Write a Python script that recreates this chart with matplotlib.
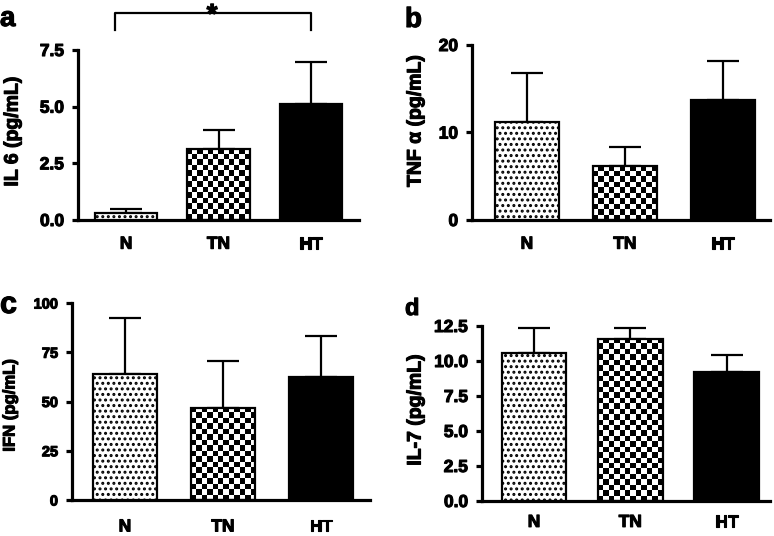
import numpy as np
import matplotlib
matplotlib.use("Agg")
import matplotlib.pyplot as plt
import matplotlib.patheffects as pe

plt.rcParams['font.family'] = ['Liberation Sans', 'DejaVu Sans']
plt.rcParams['font.weight'] = 'bold'
plt.rcParams['hatch.linewidth'] = 1.4

groups = ["N", "TN", "HT"]

il6_mean = [0.33, 3.15, 5.1]
il6_upper = [0.47, 3.97, 6.97]

tnf_mean = [11.2, 6.2, 13.7]
tnf_upper = [16.8, 8.35, 18.2]

ifn_mean = [63.9, 46.9, 62.4]
ifn_upper = [92.4, 70.7, 83.4]

il7_mean = [10.55, 11.6, 9.2]
il7_upper = [12.38, 12.38, 10.43]

W, H = 774, 536
fig = plt.figure(figsize=(W / 100, H / 100), dpi=100)


def rect(l, r, t, b):
    return [l / W, 1 - b / H, (r - l) / W, (b - t) / H]


def checker(ax, bar, cell_px=5.4):
    x, y = bar.get_x(), bar.get_y()
    w, h = bar.get_width(), bar.get_height()
    p0 = ax.transData.transform((x, y))
    p1 = ax.transData.transform((x + w, y + h))
    nx = max(1, int(round((p1[0] - p0[0]) / cell_px)))
    ny = max(1, int(round((p1[1] - p0[1]) / cell_px)))
    img = np.add.outer(np.arange(ny), np.arange(nx)) % 2
    im = ax.imshow(img, cmap='gray', extent=(x, x + w, y, y + h), origin='lower',
                   interpolation='nearest', aspect='auto', zorder=2)
    im.set_clip_path(bar)


def panel(r, xlim, ylim, yticks, fmt, width, means, upper, ylabel, lab_xy,
          xpad, tick_size=12.5, label_size=14):
    ax = fig.add_axes(rect(*r))
    ax.set_xlim(*xlim)
    ax.set_ylim(*ylim)
    xs = np.arange(len(groups))
    bars = ax.bar(xs, means, width=width, color=['white', 'none', 'black'],
                  edgecolor='black', linewidth=1.6, zorder=3)
    bars[0].set_hatch('...')
    checker(ax, bars[1])
    err_hi = np.array(upper) - np.array(means)
    ax.errorbar(xs, means, yerr=[np.zeros(3), err_hi], fmt='none', ecolor='black',
                elinewidth=1.6, capsize=11.5, capthick=1.6, zorder=1)
    ax.set_xlim(*xlim)
    ax.set_ylim(*ylim)
    for s in ['top', 'right']:
        ax.spines[s].set_visible(False)
    for s in ['left', 'bottom']:
        ax.spines[s].set_linewidth(2.3)
    ax.set_yticks(yticks)
    ax.set_yticklabels([fmt.format(v) for v in yticks], fontsize=tick_size,
                       fontweight='bold')
    ax.tick_params(axis='y', length=4, width=2.3, pad=6)
    ax.set_xticks(xs)
    ax.set_xticklabels(groups, fontsize=12.5, fontweight='bold')
    ax.tick_params(axis='x', length=0, pad=xpad)
    ax.set_ylabel(ylabel, fontsize=label_size, fontweight='bold')
    ax.yaxis.label.set_va('center')
    ax.yaxis.set_label_coords(*lab_xy)
    return ax


axa = panel((78, 359, 50, 220), (-0.52, 2.52), (0, 7.5), [0, 2.5, 5.0, 7.5], "{:.1f}",
            0.68, il6_mean, il6_upper, "IL 6 (pg/mL)", (-0.231, 0.52), 12)
axb = panel((472, 770, 45, 220), (-0.56, 2.48), (0, 20), [0, 10, 20], "{:.0f}",
            0.65, tnf_mean, tnf_upper, "TNF \u03b1 (pg/mL)", (-0.188, 0.566), 12)
axc = panel((72, 370, 303, 500), (-0.54, 2.5), (0, 100), [0, 25, 50, 75, 100], "{:.0f}",
            0.66, ifn_mean, ifn_upper, "IFN (pg/mL)", (-0.208, 0.48), 14,
            tick_size=10.5, label_size=12)
axd = panel((482, 770, 326, 501), (-0.54, 2.45), (0, 12.5), [0, 2.5, 5.0, 7.5, 10.0, 12.5],
            "{:.1f}", 0.67, il7_mean, il7_upper, "IL-7 (pg/mL)", (-0.229, 0.52), 10)

# significance bracket on panel a
bx0, bx1, by0, by1 = -0.12, 2.0, 8.38, 9.14
axa.plot([bx0, bx0, bx1, bx1], [by0, by1, by1, by0], color='black', lw=1.6,
         clip_on=False, solid_joinstyle='round')
axa.text(0.93, 9.0, "*", ha='center', va='center', fontsize=20, fontweight='bold')

# panel letters
for letter, x, yb, size in [("a", 0, 26, 20), ("b", 405, 27, 20), ("c", 0, 313, 22),
                            ("d", 405, 315, 17)]:
    fig.text(x / W, 1 - yb / H, letter, fontsize=size, fontweight='bold',
             ha='left', va='baseline')

# heavier text like the reference
fig.canvas.draw()
heavy = [pe.withStroke(linewidth=0.8, foreground='black')]
for t in fig.findobj(matplotlib.text.Text):
    if t.get_text():
        t.set_path_effects(heavy)

fig.savefig("out.png", dpi=100)
